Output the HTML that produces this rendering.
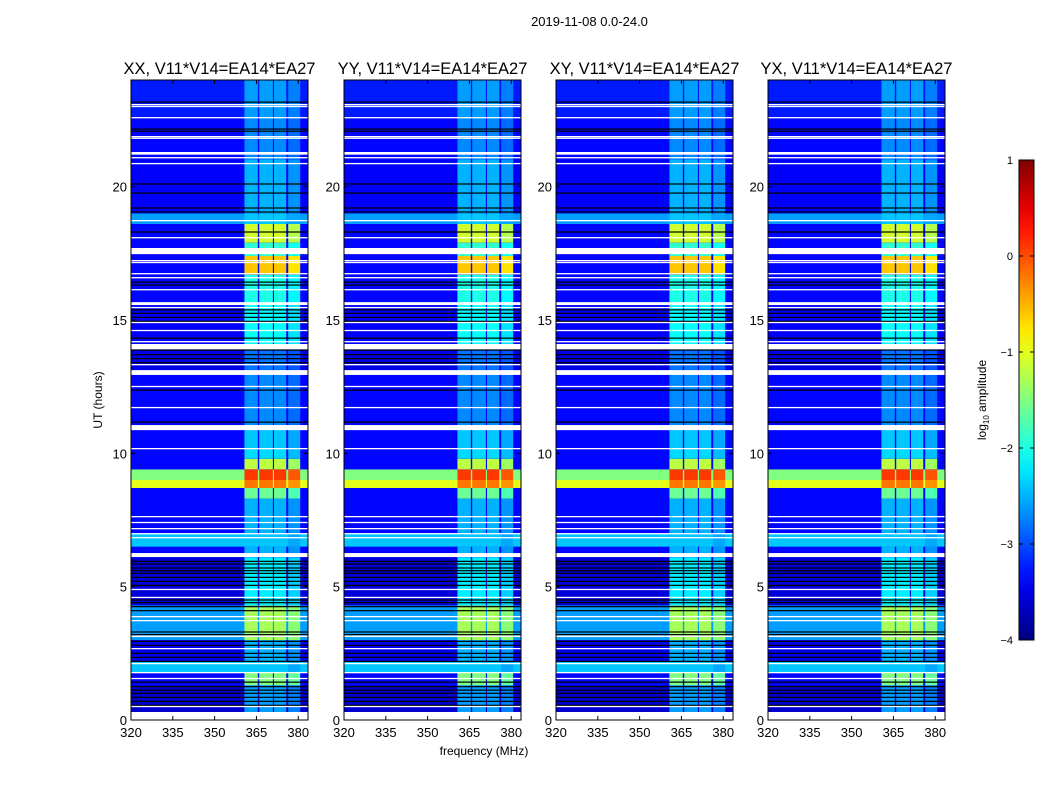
<!DOCTYPE html>
<html><head><meta charset="utf-8"><style>
body{margin:0;background:#fff;font-family:"Liberation Sans","DejaVu Sans",sans-serif;}
#root{position:relative;width:1050px;height:800px;overflow:hidden;background:#fff}
.t{position:absolute;white-space:nowrap;color:#000}
</style></head><body>
<div id="root">
<div class="t" style="left:0;width:1179px;top:14px;text-align:center;font-size:13px">2019-11-08 0.0-24.0</div>
<svg id="svg" width="1050" height="800" style="position:absolute;left:0;top:0"></svg>
</div>
<script>
// ---- data (log10 amplitude) ----
const panelTitles = ["XX, V11*V14=EA14*EA27","YY, V11*V14=EA14*EA27","XY, V11*V14=EA14*EA27","YX, V11*V14=EA14*EA27"];
const xTicks = [320,335,350,365,380];
const yTicks = [0,5,10,15,20];
const cbTicks = [1,0,-1,-2,-3,-4];
// time segments: [startHr, endHr]
const segStart = [0.3,1.3,1.8,2.2,3.0,4.3,6.1,6.5,7.0,8.3,8.7,9.0,9.4,9.8,10.2,11.0,13.0,14.0,15.6,16.7,17.4,17.9,18.6,19.0,21.0,22.6];
const segEnd   = [1.3,1.8,2.2,3.0,4.3,6.1,6.5,7.0,8.3,8.7,9.0,9.4,9.8,10.2,11.0,13.0,14.0,15.6,16.7,17.4,17.9,18.6,19.0,21.0,22.6,24.0];
const segBackground = [-3.6,-3.35,-2.4,-3.45,-2.6,-3.55,-3.35,-2.4,-3.35,-3.35,-1.0,-1.5,-3.35,-3.35,-3.35,-3.35,-3.5,-3.4,-3.35,-3.35,-3.35,-3.35,-2.6,-3.4,-3.35,-3.25];
const segBurst      = [-2.6,-1.5,-2.4,-2.5,-1.3,-2.2,-2.5,-2.4,-2.5,-1.6,-0.2,0.1,-1.2,-2.3,-2.4,-2.7,-2.8,-2.1,-2.0,-0.6,-1.9,-1.1,-2.4,-2.5,-2.7,-2.6];
// burst channels (MHz)
const chanStart = [360.7,366.0,371.3,376.4];
const chanEnd   = [365.5,370.9,375.7,380.7];
// flagged (white) rows [start,end] hours
const flagStart = [0.0,0.49,1.54,1.76,2.1,2.66,3.11,3.71,3.86,4.57,4.87,6.11,6.82,6.97,7.16,7.39,7.61,10.16,10.87,11.7,12.49,12.94,13.31,13.9,14.17,14.59,14.89,15.45,15.56,16.12,16.57,16.72,17.14,17.21,17.47,18.07,18.71,20.85,21.07,21.2,21.8,21.86,22.57,22.99,23.06];
const flagEnd   = [0.3,0.53,1.58,1.8,2.14,2.7,3.17,3.75,3.9,4.62,4.92,6.26,6.86,7.01,7.2,7.43,7.65,10.2,11.06,11.74,12.53,13.12,13.35,14.1,14.21,14.63,14.93,15.49,15.67,16.16,16.61,16.76,17.18,17.25,17.7,18.11,18.75,20.89,21.11,21.3,21.84,21.9,22.61,23.03,23.1];
// dropout (black) rows, hours
const darkRows = [0.55,0.7,0.85,1.0,1.12,1.25,1.42,2.2,2.35,2.5,2.8,2.95,3.2,3.3,4.1,4.25,4.4,4.5,5.05,5.2,5.35,5.5,5.6,5.7,5.85,5.95,11.17,12.37,13.4,13.55,13.7,13.87,14.32,14.95,15.1,15.25,15.38,16.31,16.42,18.3,19.05,19.2,19.76,20.1,22.08,22.16,23.17];

// ---- geometry ----
const panelsX = [131,344,556,768], PW=177, PT=80, PB=720;
const X0=320, X1=383.5, Y0=0, Y1=24;
function xs(p,v){return panelsX[p]+(v-X0)/(X1-X0)*PW;}
function ys(v){return PB-(v-Y0)/(Y1-Y0)*(PB-PT);}
function jet(v){
  let x=Math.max(0,Math.min(1,(v+4)/5));
  const c=t=>Math.round(255*Math.max(0,Math.min(1,t)));
  return `rgb(${c(1.5-Math.abs(4*x-3))},${c(1.5-Math.abs(4*x-2))},${c(1.5-Math.abs(4*x-1))})`;
}
const NS="http://www.w3.org/2000/svg";
const svg=document.getElementById('svg');
function mk(tag,attrs,parent){const e=document.createElementNS(NS,tag);for(const k in attrs)e.setAttribute(k,attrs[k]);(parent||svg).appendChild(e);return e;}
function txt(s,x,y,size,anchor,name){const e=mk('text',{x:x,y:y,'font-size':size,'text-anchor':anchor||'middle','font-family':'Liberation Sans, DejaVu Sans, sans-serif',fill:'#000'});e.textContent=s;


return e;}

for(let p=0;p<4;p++){
  const g=mk('g',{});
  
  
  mk('rect',{x:panelsX[p],y:PT,width:PW,height:PB-PT,fill:jet(-3.4)},g);
  for(let i=0;i<segStart.length;i++){
    const y1=ys(segEnd[i]),y2=ys(segStart[i]);
    const r=mk('rect',{x:panelsX[p],y:y1,width:PW,height:y2-y1,fill:jet(segBackground[i])},g);
    
    
    for(let c=0;c<chanStart.length;c++){
      const b=mk('rect',{x:xs(p,chanStart[c]),y:y1,width:xs(p,chanEnd[c])-xs(p,chanStart[c]),height:y2-y1,fill:jet(segBurst[i]-(c==3?0.15:0))},g);
      
      
    }
  }
  for(let i=0;i<darkRows.length;i++){
    const l=mk('rect',{x:panelsX[p],y:ys(darkRows[i])-0.6,width:PW,height:1.2,fill:'#000'},g);
    
    
  }
  for(let i=0;i<flagStart.length;i++){
    const y1=ys(flagEnd[i]),y2=ys(flagStart[i]);
    const l=mk('rect',{x:panelsX[p],y:y1,width:PW,height:Math.max(1.3,y2-y1),fill:'#fff'},g);
    
    
  }
  mk('rect',{x:panelsX[p],y:PT,width:PW,height:PB-PT,fill:'none',stroke:'#000','stroke-width':1},g);
  for(const t of xTicks){const x=xs(p,t);
    mk('line',{x1:x,x2:x,y1:PB,y2:PB-4,stroke:'#000'},g);mk('line',{x1:x,x2:x,y1:PT,y2:PT+4,stroke:'#000'},g);
    txt(String(t),x,PB+17,13,'middle','x-tick-label');}
  for(const t of yTicks){const y=ys(t);
    mk('line',{x1:panelsX[p],x2:panelsX[p]+4,y1:y,y2:y,stroke:'#000'},g);mk('line',{x1:panelsX[p]+PW,x2:panelsX[p]+PW-4,y1:y,y2:y,stroke:'#000'},g);
    txt(String(t),panelsX[p]-4,y+5,13,'end','y-tick-label');}
  txt(panelTitles[p],panelsX[p]+PW/2,PT-6,16.5,'middle','panel-title');
}
txt('frequency (MHz)',484,755,12,'middle','x-axis-title');
const yt=txt('UT (hours)',0,0,12,'middle','y-axis-title');yt.setAttribute('transform','translate(102,400) rotate(-90)');

// colorbar
const CBX=1019,CBW=15,CBT=160,CBB=640;
const defs=mk('defs',{});const lg=mk('linearGradient',{id:'jetg',x1:0,y1:1,x2:0,y2:0},defs);
for(let i=0;i<=20;i++){mk('stop',{offset:i/20,'stop-color':jet(-4+5*i/20)},lg);}
const cb=mk('rect',{x:CBX,y:CBT,width:CBW,height:CBB-CBT,fill:'url(#jetg)',stroke:'#000','stroke-width':1});


function cy(v){return CBB-(v+4)/5*(CBB-CBT);}
for(const t of cbTicks){const y=cy(t);
  mk('line',{x1:CBX,x2:CBX+4,y1:y,y2:y,stroke:'#000'});mk('line',{x1:CBX+CBW,x2:CBX+CBW-4,y1:y,y2:y,stroke:'#000'});
  txt(t<0?'\u2212'+(-t):String(t),1013,y+4,11,'end','colorbar-tick-label');}
const cl=mk('text',{'font-size':12,'text-anchor':'middle','font-family':'Liberation Sans, DejaVu Sans, sans-serif',transform:'translate(986,400) rotate(-90)'});


cl.innerHTML='log<tspan font-size="8" dy="3">10</tspan><tspan dy="-3"> amplitude</tspan>';
</script>
</body></html>
